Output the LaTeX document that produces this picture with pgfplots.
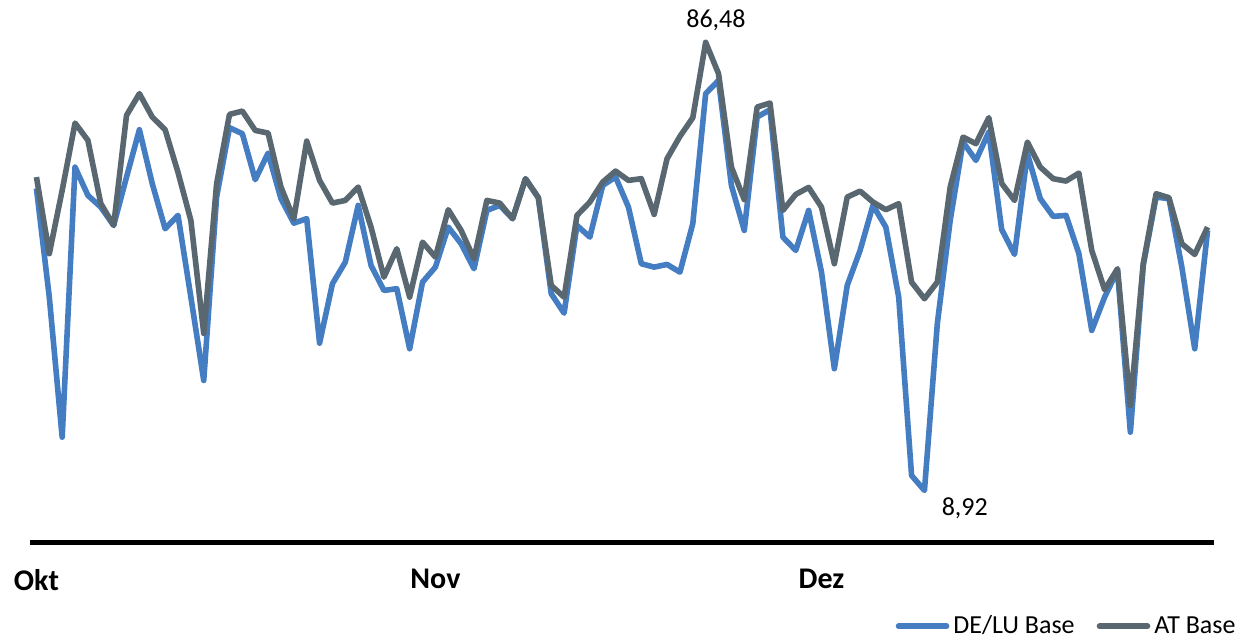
\documentclass[border=0pt]{standalone}
\usepackage{pgfplots}
\pgfplotsset{compat=1.18}
\usepackage{fontspec}
\setmainfont{Carlito}

\definecolor{debase}{RGB}{68,125,193}
\definecolor{atbase}{RGB}{88,103,112}

\pgfplotstableread{
day delu at
0 61.20 63.16
1 42.38 49.90
2 18.14 60.86
3 64.89 72.51
4 59.99 69.51
5 57.96 58.60
6 54.80 54.80
7 63.16 73.84
8 71.36 77.60
9 62.02 73.55
10 54.22 71.36
11 56.53 63.97
12 42.38 55.66
13 27.96 36.10
14 59.70 62.02
15 71.71 74.01
16 70.67 74.58
17 62.71 71.24
18 67.31 70.78
19 59.42 61.43
20 55.19 55.96
21 55.96 69.39
22 34.42 62.59
23 44.70 58.66
24 48.44 59.12
25 58.26 61.43
26 47.87 54.50
27 43.54 45.84
28 43.84 50.76
29 33.45 42.38
30 44.98 51.90
31 47.58 49.31
32 54.50 57.51
33 51.63 53.93
34 47.30 49.03
35 57.39 59.12
36 58.26 58.66
37 55.96 55.96
38 62.88 62.88
39 59.59 59.59
40 42.97 44.41
41 39.61 42.38
42 54.80 56.53
43 52.77 58.83
44 61.72 62.29
45 63.16 64.20
46 57.96 62.59
47 48.16 62.88
48 47.58 56.70
49 48.04 66.34
50 46.71 70.20
51 55.09 73.44
52 77.60 86.48
53 79.90 81.06
54 61.72 64.89
55 53.93 59.25
56 73.55 75.28
57 74.83 75.97
58 52.77 57.39
59 50.47 60.16
60 57.39 61.37
61 46.71 57.96
62 29.99 48.16
63 44.41 59.70
64 50.47 60.73
65 58.26 58.83
66 54.50 57.51
67 42.38 58.55
68 11.51 44.98
69 8.92 42.11
70 37.78 44.98
71 55.66 61.43
72 69.22 70.08
73 66.05 68.94
74 70.95 73.44
75 54.10 62.07
76 49.77 59.12
77 67.21 69.22
78 59.42 64.89
79 56.35 62.88
80 56.53 62.47
81 49.90 63.85
82 36.62 50.47
83 42.38 43.66
84 47.00 47.30
85 19.01 23.63
86 47.87 48.16
87 59.70 60.28
88 59.42 59.59
89 47.58 51.63
90 33.45 49.77
91 53.93 54.50
}\prices

\begin{document}
\begin{tikzpicture}[font=\fontsize{13pt}{15pt}\selectfont]
\begin{axis}[
  scale only axis,
  width=592pt,
  height=260pt,
  clip=false,
  xmin=-0.5, xmax=91.5,
  ymin=0, ymax=90,
  axis y line=none,
  axis x line*=bottom,
  x axis line style={line width=2.5pt, -},
  xtick={0,31,61},
  xticklabels={Okt,Nov,Dez},
  xticklabel style={font=\fontsize{15pt}{17pt}\selectfont\bfseries, yshift=-10pt},
  major tick length=0pt,
  legend columns=2,
  legend style={draw=none, fill=none, at={(1.027,-0.162)}, anchor=east,
    /tikz/every even column/.append style={column sep=9pt}},
  legend image code/.code={\draw[#1, line cap=round] (0pt,0pt) -- (24pt,0pt);},
  every axis plot/.append style={line width=2.8pt, line join=round, no markers},
]
\addplot[debase] table[x=day, y=delu] {\prices};
\addlegendentry{DE/LU Base}
\addplot[atbase] table[x=day, y=at] {\prices};
\addlegendentry{AT Base}
\node[anchor=south] at (axis cs:52.8,87.2) {86,48};
\node[anchor=west] at (axis cs:69.8,5.8) {8,92};
\end{axis}
\pgfresetboundingbox
\path[use as bounding box] ([xshift=-15pt,yshift=-49pt]current axis.south west) rectangle ([xshift=17pt,yshift=11pt]current axis.north east);
\end{tikzpicture}
\end{document}
